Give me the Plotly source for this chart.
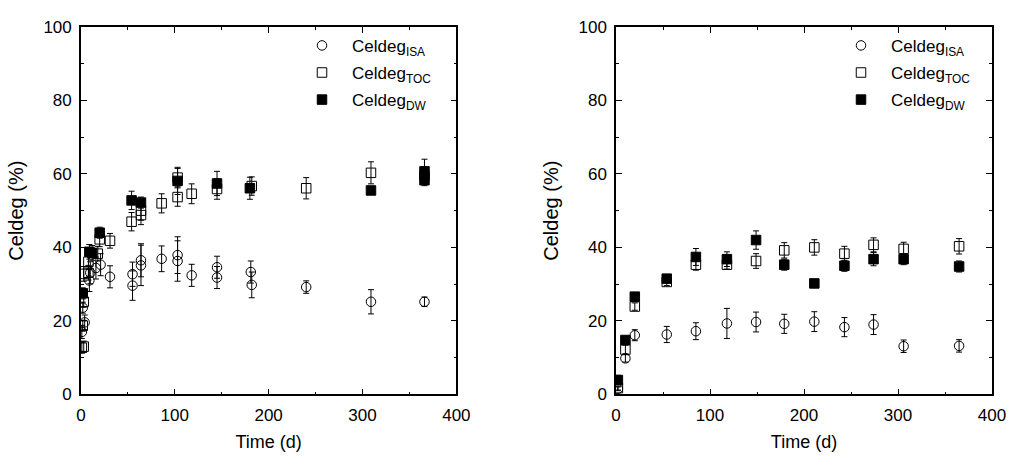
import plotly.graph_objects as go

# ---- Left panel: cellulose degradation over time ----
l_isa_t = [1, 2, 4, 9, 10, 16, 21, 31, 55, 55, 64, 64, 86, 103, 103, 118, 145, 145, 181, 182, 240, 309, 366]
l_isa_v = [17.0, 23.6, 19.6, 31.0, 33.1, 34.4, 35.3, 32.0, 32.7, 29.6, 36.5, 35.1, 36.9, 37.9, 36.3, 32.4, 34.6, 31.8, 33.3, 29.8, 29.2, 25.2, 25.2]
l_isa_e = [1.8, 1.5, 2.0, 3.0, 3.0, 3.0, 3.0, 3.0, 3.3, 4.0, 4.5, 5.5, 3.5, 5.0, 5.5, 3.0, 3.0, 3.0, 3.0, 3.5, 1.7, 3.3, 1.3]

l_toc_t = [1, 3, 2, 3, 3, 8, 8, 18, 20, 31, 54, 64, 64, 86, 103, 103, 118, 145, 182, 240, 309, 366]
l_toc_v = [12.7, 13.0, 18.7, 25.2, 32.8, 33.1, 36.1, 38.3, 42.2, 41.8, 47.0, 48.8, 50.0, 52.0, 53.7, 59.0, 54.6, 55.9, 56.7, 56.1, 60.3, 59.5]
l_toc_e = [1.5, 1.5, 1.5, 1.5, 2.0, 2.0, 2.0, 2.0, 2.0, 2.0, 2.5, 2.6, 2.6, 2.6, 2.5, 2.5, 2.7, 2.8, 2.5, 2.9, 3.0, 2.0]

l_dw_t = [2, 9, 12, 20, 54, 64, 103, 145, 180, 309, 366, 366]
l_dw_v = [27.5, 38.8, 38.5, 44.0, 52.8, 52.2, 58.1, 57.4, 56.1, 55.5, 60.7, 58.3]
l_dw_e = [1.5, 2.0, 2.0, 1.5, 2.5, 1.5, 3.7, 3.3, 3.0, 1.0, 3.3, 1.5]

# ---- Right panel ----
r_t = [2, 10, 20, 54, 85, 118, 149, 179, 211, 243, 274, 306, 365]
r_isa_v = [1.5, 9.8, 16.1, 16.3, 17.2, 19.3, 19.7, 19.2, 19.8, 18.3, 19.0, 13.1, 13.2]
r_isa_e = [0.5, 1.0, 1.5, 2.2, 2.3, 4.1, 2.7, 2.6, 2.7, 2.6, 2.7, 1.7, 1.7]
r_toc_v = [1.7, 12.2, 23.9, 30.6, 35.3, 35.3, 36.3, 39.2, 40.0, 38.3, 40.7, 39.6, 40.3]
r_toc_e = [0.5, 1.2, 1.0, 1.0, 1.5, 1.2, 2.0, 2.1, 2.1, 2.0, 1.9, 1.8, 2.1]
r_dw_v = [3.9, 14.8, 26.6, 31.5, 37.4, 36.8, 42.0, 35.3, 30.2, 35.0, 36.8, 36.8, 34.8]
r_dw_e = [1.3, 1.0, 0.8, 1.0, 2.3, 2.0, 2.5, 1.5, 0.8, 1.5, 1.8, 1.5, 1.5]

x_ticks = [0, 100, 200, 300, 400]
y_ticks = [0, 20, 40, 60, 80, 100]

names = ["Celdeg<sub>ISA</sub>", "Celdeg<sub>TOC</sub>", "Celdeg<sub>DW</sub>"]
symbols = ["circle-open", "square-open", "square"]

FONT = "Liberation Sans, Arial, sans-serif"

fig = go.Figure()


def add_series(t, v, e, idx, xa, ya, legend):
    fig.add_trace(go.Scatter(
        x=t, y=v, mode="markers", name=names[idx],
        xaxis=xa, yaxis=ya, legend=legend,
        legendgroup=f"{legend}-{idx}",
        marker=dict(symbol=symbols[idx], size=9.5, color="black",
                    line=dict(color="black", width=1)),
        error_y=dict(type="data", array=e, visible=True,
                     color="black", thickness=1, width=3),
    ))


add_series(l_isa_t, l_isa_v, l_isa_e, 0, "x", "y", "legend")
add_series(l_toc_t, l_toc_v, l_toc_e, 1, "x", "y", "legend")
add_series(l_dw_t, l_dw_v, l_dw_e, 2, "x", "y", "legend")
add_series(r_t, r_isa_v, r_isa_e, 0, "x2", "y2", "legend2")
add_series(r_t, r_toc_v, r_toc_e, 1, "x2", "y2", "legend2")
add_series(r_t, r_dw_v, r_dw_e, 2, "x2", "y2", "legend2")

axis_common = dict(
    showline=True, linecolor="black", linewidth=1.5, mirror="allticks",
    ticks="inside", ticklen=6, tickcolor="black", tickwidth=1,
    showgrid=False, zeroline=False, ticklabelstandoff=4,
    tickfont=dict(family=FONT, size=17, color="black"),
)

xa = dict(axis_common, range=[0, 400], tickvals=x_ticks,
          minor=dict(ticks="inside", ticklen=3, dtick=50, tick0=0, tickcolor="black"),
          title=dict(text="Time (d)", font=dict(family=FONT, size=18, color="black"),
                     standoff=12))
ya = dict(axis_common, range=[0, 100], tickvals=y_ticks,
          minor=dict(ticks="inside", ticklen=3, dtick=10, tick0=0, tickcolor="black"),
          title=dict(text="Celdeg (%)", font=dict(family=FONT, size=20, color="black"),
                     standoff=14))

legend_common = dict(
    font=dict(family=FONT, size=17, color="black"),
    bgcolor="rgba(0,0,0,0)", borderwidth=0, itemwidth=50,
    traceorder="grouped", tracegroupgap=2,
    xanchor="left", yanchor="top",
)

fig.update_layout(
    width=1019, height=468,
    margin=dict(l=0, r=0, t=0, b=0),
    paper_bgcolor="white", plot_bgcolor="white",
    xaxis=dict(xa, domain=[0.0759, 0.4514], anchor="y"),
    yaxis=dict(ya, domain=[0.1417, 0.96], anchor="x"),
    xaxis2=dict(xa, domain=[0.611, 0.987], anchor="y2"),
    yaxis2=dict(ya, domain=[0.1417, 0.96], anchor="x2"),
    legend=dict(legend_common, x=0.287, y=0.958),
    legend2=dict(legend_common, x=0.826, y=0.958),
    showlegend=True,
)

fig.write_html("out.html")
